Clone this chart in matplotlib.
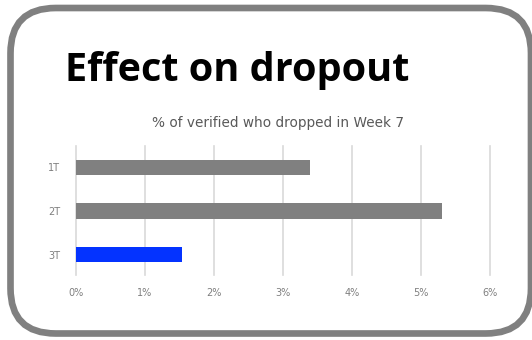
import matplotlib
matplotlib.use('Agg')
import matplotlib.pyplot as plt
from matplotlib.patches import FancyBboxPatch

# dropout share per cohort (percent)
cohorts = ['1T', '2T', '3T']
dropout_pct = [3.40, 5.31, 1.54]
bar_colors = ['#808080', '#808080', '#0433ff']
x_ticks = [0, 1, 2, 3, 4, 5, 6]

W, H = 532, 340
fig = plt.figure(figsize=(W / 100, H / 100), dpi=100)

# rounded frame around the slide
frame = FancyBboxPatch((10.5 / W, 1 - 333.5 / H), (531 - 10.5) / W, (333.5 - 8) / H,
                       boxstyle='round,pad=0,rounding_size=0.085',
                       transform=fig.transFigure, facecolor='none',
                       edgecolor='#808080', linewidth=4.8, mutation_aspect=W / H,
                       zorder=5)
fig.patches.append(frame)

fig.text(65 / W, 1 - 70 / H, 'Effect on dropout', fontsize=28.5, fontweight='bold',
         family='Open Sans', ha='left', va='center', color='black')
fig.text(277.5 / W, 1 - 123 / H, '% of verified who dropped in Week 7', fontsize=9.8,
         family='DejaVu Sans', ha='center', va='center', color='#595959')

ax = fig.add_axes([75.7 / W, 1 - 275 / H, (490 - 75.7) / W, (275 - 146) / H])
ax.set_facecolor('none')
ypos = list(range(len(cohorts)))
ax.barh(ypos, dropout_pct, height=0.36, color=bar_colors, zorder=3)
ax.set_yticks(ypos)
ax.set_yticklabels(cohorts)
ax.set_ylim(2.47, -0.49)
ax.set_xlim(0, 6)
ax.set_xticks(x_ticks)
ax.set_xticklabels(['%d%%' % t for t in x_ticks])
for t in x_ticks:
    ax.axvline(t, color='#d9d9d9', linewidth=1.2, zorder=0, clip_on=False)
for s in ax.spines.values():
    s.set_visible(False)
ax.tick_params(length=0, labelsize=7, colors='#7f7f7f')
ax.tick_params(axis='y', pad=11)
ax.tick_params(axis='x', pad=9)

fig.savefig('out.png', dpi=100)
